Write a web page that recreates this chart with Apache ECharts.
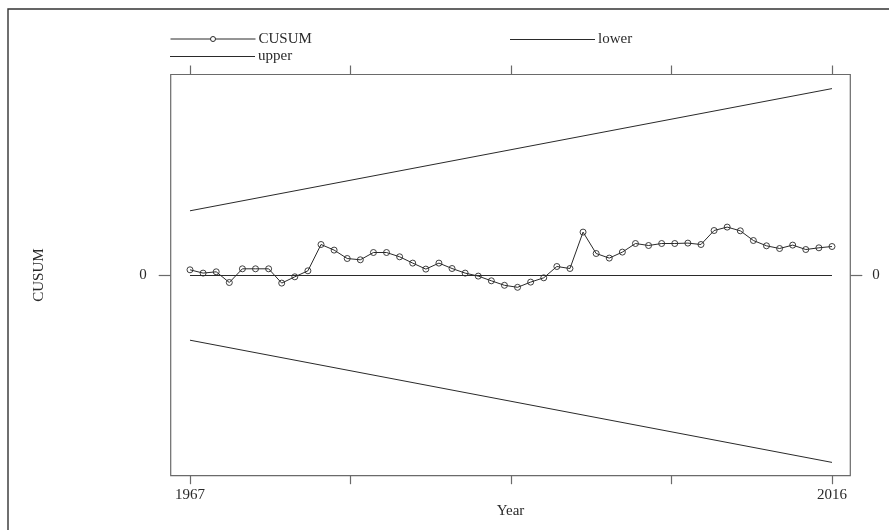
<!DOCTYPE html>
<html>
<head>
<meta charset="utf-8">
<script src="https://cdn.jsdelivr.net/npm/echarts@6/dist/echarts.min.js"></script>
<style>
html,body{margin:0;padding:0;background:#fff;}
#chart{width:889px;height:530px;}
</style>
</head>
<body>
<div id="chart"></div>
<script>
// ---- data ----
const years = [1967,1968,1969,1970,1971,1972,1973,1974,1975,1976,
               1977,1978,1979,1980,1981,1982,1983,1984,1985,1986,
               1987,1988,1989,1990,1991,1992,1993,1994,1995,1996,
               1997,1998,1999,2000,2001,2002,2003,2004,2005,2006,
               2007,2008,2009,2010,2011,2012,2013,2014,2015,2016];
const cusum = [0.57,0.24,0.37,-0.70,0.67,0.67,0.67,-0.76,-0.13,0.47,
               3.10,2.54,1.70,1.57,2.30,2.30,1.87,1.24,0.64,1.24,
               0.70,0.24,-0.06,-0.53,-0.98,-1.18,-0.66,-0.23,0.90,0.70,
               4.34,2.20,1.74,2.34,3.20,3.00,3.20,3.20,3.24,3.10,
               4.50,4.84,4.47,3.50,2.97,2.70,3.04,2.60,2.77,2.90];
const boundYears = [1967, 2016];
const upperBound = [6.47, 18.69];
const lowerBound = [-6.47, -18.69];
const zeroLine = [0, 0];
const xTicks = [1967, 1979.25, 1991.5, 2003.75, 2016];
const xTickLabels = [1967, 2016];
const yTicks = [0];
const yTickLabels = [0];

const FONT = '"Liberation Serif", "DejaVu Serif", serif';
const INK = '#2a2a2a';
const BOX = '#6a6a6a';

const chart = echarts.init(document.getElementById('chart'), null, {renderer: 'canvas'});

const zipXY = (xs, ys) => xs.map((x, i) => [x, ys[i]]);

const xMin = 1965.527, xMax = 2017.397;
const yMin = -20.02, yMax = 20.1;

const legendBase = {
  itemWidth: 85, itemGap: 20,
  textStyle: {fontFamily: FONT, fontSize: 15, color: INK, padding: [0,0,0,-2]},
  orient: 'horizontal', padding: 0, selectedMode: false
};
const markerIcon = 'path://M0,4 L40,4 M45,4 L85,4 M40,4 A2.5,2.5 0 1 0 45,4 A2.5,2.5 0 1 0 40,4';

chart.setOption({
  animation: false,
  backgroundColor: '#fff',
  graphic: [{
    type: 'rect', silent: true,
    shape: {x: 8, y: 9, width: 1000, height: 700},
    style: {fill: 'none', stroke: '#333', lineWidth: 1.4}
  }],
  legend: [
    Object.assign({}, legendBase, {
      data: [{name: 'CUSUM', icon: markerIcon}], left: 170, top: 31.5, itemHeight: 5,
      itemStyle: {color: 'rgba(0,0,0,0)', borderColor: INK, borderWidth: 1}
    }),
    Object.assign({}, legendBase, {
      data: [{name: 'upper', icon: 'rect'}], left: 170, top: 49, itemHeight: 1,
      itemStyle: {color: INK, borderWidth: 0}
    }),
    Object.assign({}, legendBase, {
      data: [{name: 'lower', icon: 'rect'}], left: 510, top: 32, itemHeight: 1,
      itemStyle: {color: INK, borderWidth: 0}
    })
  ],
  grid: {
    left: 170.7, right: 38.7, top: 74.5, bottom: 54.3,
    show: true, borderColor: BOX, borderWidth: 1.2, backgroundColor: 'transparent'
  },
  xAxis: [{
    type: 'value', position: 'bottom', min: xMin, max: xMax,
    name: 'Year', nameLocation: 'middle', nameGap: 28, nameMoveOverlap: false,
    nameTextStyle: {fontFamily: FONT, fontSize: 15, color: INK},
    axisLine: {show: false, onZero: false},
    axisTick: {show: true, inside: false, length: 8.5, customValues: xTicks, lineStyle: {color: BOX, width: 1.2}},
    axisLabel: {show: true, customValues: xTickLabels, margin: 12, fontFamily: FONT, fontSize: 15, color: INK,
                formatter: v => String(Math.round(v))},
    splitLine: {show: false}
  }, {
    type: 'value', position: 'top', min: xMin, max: xMax,
    axisLine: {show: false, onZero: false},
    axisTick: {show: true, inside: false, length: 9, customValues: xTicks, lineStyle: {color: BOX, width: 1.2}},
    axisLabel: {show: false},
    splitLine: {show: false}
  }],
  yAxis: [{
    type: 'value', position: 'left', min: yMin, max: yMax,
    name: 'CUSUM', nameLocation: 'middle', nameGap: 124, nameRotate: 90, nameMoveOverlap: false,
    nameTextStyle: {fontFamily: FONT, fontSize: 15, color: INK},
    axisLine: {show: false, onZero: false},
    axisTick: {show: true, length: 12, customValues: yTicks, lineStyle: {color: BOX, width: 1.2}},
    axisLabel: {show: true, customValues: yTickLabels, margin: 24, fontFamily: FONT, fontSize: 15, color: INK},
    splitLine: {show: false}
  }, {
    type: 'value', position: 'right', min: yMin, max: yMax,
    axisLine: {show: false, onZero: false},
    axisTick: {show: true, length: 12, customValues: yTicks, lineStyle: {color: BOX, width: 1.2}},
    axisLabel: {show: true, customValues: yTickLabels, margin: 22, fontFamily: FONT, fontSize: 15, color: INK},
    splitLine: {show: false}
  }],
  series: [{
    name: 'CUSUM', type: 'line', data: zipXY(years, cusum),
    symbol: 'circle', symbolSize: 6, showSymbol: true,
    lineStyle: {color: INK, width: 1},
    itemStyle: {color: 'rgba(0,0,0,0)', borderColor: INK, borderWidth: 0.9},
    z: 5
  }, {
    name: 'lower', type: 'line', data: zipXY(boundYears, lowerBound),
    symbol: 'none', lineStyle: {color: INK, width: 1}, itemStyle: {color: INK}
  }, {
    name: 'upper', type: 'line', data: zipXY(boundYears, upperBound),
    symbol: 'none', lineStyle: {color: INK, width: 1}, itemStyle: {color: INK}
  }, {
    name: 'zero', type: 'line', data: zipXY(boundYears, zeroLine),
    symbol: 'none', lineStyle: {color: INK, width: 1}, silent: true
  }]
});
</script>
</body>
</html>
